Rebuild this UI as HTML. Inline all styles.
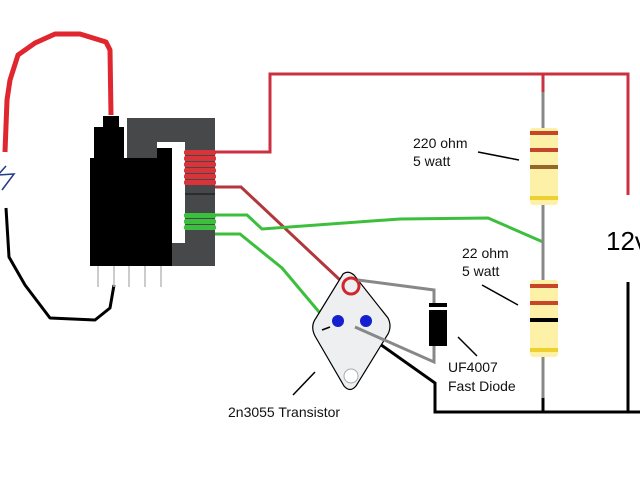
<!DOCTYPE html>
<html><head><style>body{margin:0;background:#fff}svg{display:block}</style></head><body>
<svg width="640" height="480" viewBox="0 0 640 480" xmlns="http://www.w3.org/2000/svg" font-family="Liberation Sans, sans-serif">
<rect width="640" height="480" fill="#fff"/>
<!-- left red wire -->
<polyline points="5,152 7,100 10,80 18,55 35,43 55,34 80,34 106,42 110,50 111,115" fill="none" stroke="#e0262e" stroke-width="5" stroke-linejoin="round"/>
<!-- left blue spark -->
<polyline points="6,166 -2,175 14,174 2,190" fill="none" stroke="#223a8a" stroke-width="1.5"/>
<!-- left black wire -->
<polyline points="6,208 9,257 25,285 50,318 95,320 110,308 114,285" fill="none" stroke="#000" stroke-width="3" stroke-linejoin="round"/>
<!-- pins -->
<g stroke="#bbb" stroke-width="1.5"><line x1="98" y1="266" x2="98" y2="287"/><line x1="114" y1="266" x2="114" y2="287"/><line x1="129" y1="266" x2="129" y2="287"/><line x1="145" y1="266" x2="145" y2="287"/><line x1="161" y1="266" x2="161" y2="287"/></g>
<!-- core -->
<rect x="127" y="118" width="88" height="148" fill="#474849"/>
<rect x="157" y="142" width="28" height="101" fill="#fff"/>
<!-- black body -->
<rect x="103" y="116" width="16" height="14" fill="#000"/>
<rect x="94" y="127" width="30" height="35" fill="#000"/>
<rect x="90" y="158" width="82" height="108" fill="#000"/>
<rect x="157" y="148" width="15" height="15" fill="#000"/>
<line x1="185" y1="194" x2="215" y2="194" stroke="#111" stroke-width="1"/>
<!-- red coil -->
<g fill="#d8343a"><rect x="184" y="150" width="32" height="5" rx="2"/><rect x="184" y="156" width="32" height="5" rx="2"/><rect x="184" y="162" width="32" height="5" rx="2"/><rect x="184" y="168" width="32" height="5" rx="2"/><rect x="184" y="174" width="32" height="5" rx="2"/><rect x="184" y="180" width="32" height="5" rx="2"/></g>
<!-- green coil -->
<g fill="#3cbf3c"><rect x="184" y="213" width="32" height="5" rx="2"/><rect x="184" y="219" width="32" height="5" rx="2"/><rect x="184" y="225" width="32" height="5" rx="2"/></g>
<!-- top red circuit -->
<polyline points="215,152 270,152 270,74 628,74 628,195" fill="none" stroke="#cc3040" stroke-width="3"/>
<line x1="543" y1="74" x2="543" y2="92" stroke="#cc3040" stroke-width="3"/>
<!-- lower red to transistor -->
<polyline points="215,187 241,187 340,280" fill="none" stroke="#b2373c" stroke-width="3"/>
<!-- green wires -->
<polyline points="215,215 247,215 262,229 400,219 488,218 543,242" fill="none" stroke="#3cbf3c" stroke-width="3"/>
<polyline points="215,234 240,234 282,268 330,325" fill="none" stroke="#3cbf3c" stroke-width="3"/>
<!-- resistor leads -->
<line x1="543" y1="92" x2="543" y2="130" stroke="#888" stroke-width="3"/>
<line x1="543" y1="205" x2="543" y2="282" stroke="#888" stroke-width="3"/>
<line x1="543" y1="357" x2="543" y2="400" stroke="#888" stroke-width="3"/>
<line x1="543" y1="398" x2="543" y2="412" stroke="#000" stroke-width="3"/>
<!-- 220 resistor -->
<rect x="530" y="128" width="28" height="77" rx="3" fill="#fdf1a8"/>
<rect x="530" y="131" width="28" height="4" fill="#c7442a"/>
<rect x="530" y="148" width="28" height="4" fill="#c7442a"/>
<rect x="530" y="165" width="28" height="4" fill="#93662b"/>
<rect x="530" y="196" width="28" height="4" fill="#f0cf30"/>
<!-- 22 resistor -->
<rect x="530" y="280" width="28" height="77" rx="3" fill="#fdf1a8"/>
<rect x="530" y="284" width="28" height="4" fill="#c7442a"/>
<rect x="530" y="301" width="28" height="4" fill="#c7442a"/>
<rect x="530" y="318" width="28" height="4" fill="#000"/>
<rect x="530" y="348" width="28" height="4" fill="#f0cf30"/>
<!-- bottom black -->
<polyline points="360,330 435,383 435,412 640,412" fill="none" stroke="#000" stroke-width="3"/>
<line x1="628" y1="282" x2="628" y2="412" stroke="#000" stroke-width="3"/>
<text x="606" y="250" font-size="26">12v</text>
<!-- transistor -->
<path d="M343,274 Q348,270 354,275 L388,318 Q392,326 388,334 L356,386 Q350,393 344,386 L315,336 Q310,326 316,318 Z" fill="#eeeff1" stroke="#000" stroke-width="1.2"/>
<circle cx="351" cy="286" r="8" fill="none" stroke="#d0262e" stroke-width="3"/>
<circle cx="338" cy="321" r="6" fill="#1420d0"/>
<circle cx="366" cy="321" r="6" fill="#1420d0"/>
<circle cx="351" cy="376" r="7" fill="#fff" stroke="#aaa" stroke-width="1"/>
<line x1="322" y1="330" x2="330" y2="327" stroke="#000" stroke-width="1.5"/>
<!-- gray wires and diode -->
<polyline points="358,280 434,290 434,305" fill="none" stroke="#888" stroke-width="3"/>
<polyline points="355,327 434,362 434,345" fill="none" stroke="#888" stroke-width="3"/>
<rect x="429" y="303" width="18" height="4" fill="#000"/>
<rect x="429" y="310" width="18" height="36" fill="#000"/>
<!-- labels -->
<g font-size="14" fill="#111">
<text x="413" y="148">220 ohm</text><text x="413" y="166">5 watt</text>
<text x="462" y="258">22 ohm</text><text x="462" y="276">5 watt</text>
<text x="448" y="372">UF4007</text><text x="448" y="391">Fast Diode</text>
<text x="228" y="417">2n3055 Transistor</text>
</g>
<g stroke="#000" stroke-width="1.5">
<line x1="478" y1="152" x2="519" y2="160"/>
<line x1="482" y1="285" x2="518" y2="305"/>
<line x1="458" y1="337" x2="477" y2="356"/>
<line x1="293" y1="395" x2="315" y2="372"/>
</g>
</svg>
</body></html>
